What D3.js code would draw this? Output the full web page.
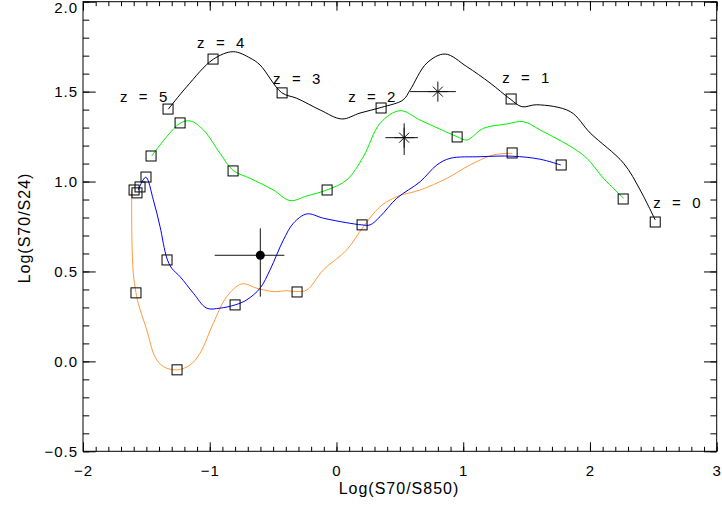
<!DOCTYPE html>
<html>
<head>
<meta charset="utf-8">
<script src="https://cdn.jsdelivr.net/npm/d3@7"></script>
<style>
  body { margin: 0; background: #fff; }
  svg { display: block; }
  text { font-family: "Liberation Sans", Arial, sans-serif; fill: #000; }
  .tick-label { font-size: 15px; letter-spacing: 1px; }
  .z-label { font-size: 15px; letter-spacing: 3.6px; }
  .title { font-size: 16px; letter-spacing: 1px; }
</style>
</head>
<body>
<svg id="chart" width="722" height="509"></svg>
<script>
// model tracks in (log S70/S850, log S70/S24)

var track_black = [
  [-1.327, 1.402], [-1.182, 1.527], [-0.972, 1.680], [-0.814, 1.722],
  [-0.682, 1.687], [-0.603, 1.648], [-0.432, 1.494], [-0.313, 1.463],
  [-0.129, 1.398], [0.042, 1.348], [0.186, 1.381], [0.358, 1.413],
  [0.526, 1.454], [0.581, 1.509], [0.713, 1.659], [0.857, 1.709],
  [1.028, 1.639], [1.212, 1.548], [1.370, 1.459], [1.463, 1.416],
  [1.581, 1.427], [1.844, 1.389], [2.002, 1.270], [2.265, 1.102],
  [2.396, 0.953], [2.515, 0.786]
];
var track_green = [
  [-1.458, 1.142], [-1.339, 1.250], [-1.234, 1.324], [-1.155, 1.337],
  [-1.050, 1.287], [-0.919, 1.157], [-0.814, 1.061], [-0.682, 1.018],
  [-0.498, 0.953], [-0.366, 0.894], [-0.234, 0.920], [-0.076, 0.953],
  [0.081, 1.009], [0.212, 1.138], [0.344, 1.324], [0.502, 1.394],
  [0.660, 1.342], [0.818, 1.291], [0.950, 1.250], [1.028, 1.231],
  [1.160, 1.296], [1.344, 1.320], [1.475, 1.333], [1.607, 1.287],
  [1.870, 1.185], [1.976, 1.129], [2.107, 1.018], [2.265, 0.907]
];
var track_blue = [
  [-1.564, 0.953], [-1.505, 1.024], [-1.445, 0.898], [-1.392, 0.749],
  [-1.339, 0.575], [-1.300, 0.518], [-1.234, 0.471], [-1.129, 0.379],
  [-1.024, 0.296], [-0.919, 0.296], [-0.800, 0.314], [-0.708, 0.342],
  [-0.603, 0.407], [-0.524, 0.509], [-0.419, 0.675], [-0.340, 0.768],
  [-0.234, 0.820], [-0.103, 0.796], [0.081, 0.771], [0.200, 0.759],
  [0.265, 0.759], [0.344, 0.805], [0.476, 0.907], [0.660, 0.999],
  [0.792, 1.092], [0.897, 1.129], [1.133, 1.138], [1.386, 1.141],
  [1.607, 1.124], [1.770, 1.092]
];
var track_orange = [
  [-1.616, 0.953], [-1.614, 0.675], [-1.603, 0.490], [-1.582, 0.382],
  [-1.564, 0.323], [-1.497, 0.175], [-1.432, 0.026], [-1.366, -0.029],
  [-1.256, -0.047], [-1.155, -0.020], [-1.077, 0.045], [-0.972, 0.212],
  [-0.866, 0.360], [-0.747, 0.431], [-0.629, 0.407], [-0.498, 0.388],
  [-0.392, 0.393], [-0.313, 0.388], [-0.234, 0.397], [-0.103, 0.509],
  [0.081, 0.620], [0.212, 0.749], [0.344, 0.860], [0.476, 0.916],
  [0.660, 0.953], [0.871, 1.018], [1.054, 1.092], [1.238, 1.148],
  [1.388, 1.157]
];

// redshift markers (squares) on each track
var boxes_black = [[-1.329, 1.403], [-0.974, 1.681], [-0.429, 1.493], [0.352, 1.409], [1.378, 1.459], [2.515, 0.775]];
var boxes_green = [[-1.463, 1.142], [-1.234, 1.326], [-0.816, 1.059], [-0.074, 0.953], [0.952, 1.248], [2.262, 0.903]];
var boxes_blue = [[-1.550, 0.970], [-1.503, 1.025], [-1.337, 0.564], [-0.800, 0.314], [0.202, 0.759], [1.773, 1.092]];
var boxes_orange = [[-1.597, 0.953], [-1.574, 0.937], [-1.582, 0.381], [-1.258, -0.047], [-0.311, 0.386], [1.386, 1.159]];

// redshift labels along the black track (left edge, vertical centre)
var z_labels = ["z = 5", "z = 4", "z = 3", "z = 2", "z = 1", "z = 0"];
var z_label_x = [-1.708, -1.100, -0.500, 0.092, 1.307, 2.499];
var z_label_y = [1.470, 1.770, 1.570, 1.470, 1.576, 0.885];

// observed points: x, x low, x high, y, y low, y high
var obs_dot = [-0.601, -0.961, -0.411, 0.590, 0.360, 0.740];
var obs_stars = [
  [0.800, 0.581, 0.942, 1.500, 1.500, 1.500],
  [0.534, 0.386, 0.642, 1.244, 1.148, 1.324]
];

var x_ticks = [-2, -1, 0, 1, 2, 3];
var y_ticks = [-0.5, 0.0, 0.5, 1.0, 1.5, 2.0];

var plot_left = 83, plot_top = 1.7, plot_right = 716.7, plot_bottom = 451.3;

var svg = d3.select("#chart");
var x = d3.scaleLinear().domain([-2, 3]).range([plot_left, plot_right]);
var y = d3.scaleLinear().domain([-0.5, 2.0]).range([plot_bottom, plot_top]);

var minor_x = d3.range(-20, 31).map(function(d) { return d / 10; });
var minor_y = d3.range(-5, 21).map(function(d) { return d / 10; });

function fmt_minus(s) { return s.replace("-", "\u2212"); }

// ticks point inward on all four sides (IDL style)
function draw_axis(axis, transform) {
  var g = svg.append("g").attr("transform", transform).call(axis);
  g.select(".domain").remove();
  g.selectAll("line").attr("stroke", "#000");
  return g;
}

draw_axis(d3.axisBottom(x).tickValues(minor_x).tickSize(-4.5).tickSizeOuter(0).tickFormat(""),
          "translate(0," + plot_bottom + ")");
draw_axis(d3.axisTop(x).tickValues(minor_x).tickSize(-4.5).tickSizeOuter(0).tickFormat(""),
          "translate(0," + plot_top + ")");
draw_axis(d3.axisTop(x).tickValues(x_ticks).tickSize(-9).tickSizeOuter(0).tickFormat(""),
          "translate(0," + plot_top + ")");
var gx = draw_axis(d3.axisBottom(x).tickValues(x_ticks).tickSize(-9).tickSizeOuter(0)
          .tickPadding(14).tickFormat(function(d) { return fmt_minus(d3.format("d")(d)); }),
          "translate(0," + plot_bottom + ")");
gx.selectAll("text").attr("class", "tick-label");
gx.attr("font-family", null).attr("font-size", null);

draw_axis(d3.axisLeft(y).tickValues(minor_y).tickSize(-6.3).tickSizeOuter(0).tickFormat(""),
          "translate(" + plot_left + ",0)");
draw_axis(d3.axisRight(y).tickValues(minor_y).tickSize(-6.3).tickSizeOuter(0).tickFormat(""),
          "translate(" + plot_right + ",0)");
draw_axis(d3.axisRight(y).tickValues(y_ticks).tickSize(-12.7).tickSizeOuter(0).tickFormat(""),
          "translate(" + plot_right + ",0)");
var gy = draw_axis(d3.axisLeft(y).tickValues(y_ticks).tickSize(-12.7).tickSizeOuter(0)
          .tickPadding(5).tickFormat(function(d) { return fmt_minus(d3.format(".1f")(d)); }),
          "translate(" + plot_left + ",0)");
gy.selectAll("text").attr("class", "tick-label");
gy.attr("font-family", null).attr("font-size", null);
// the top label sits a little lower so it stays inside the picture
gy.selectAll("text").filter(function(d) { return d === 2; }).attr("dy", "0.32em").attr("y", 6);

svg.append("rect")
  .attr("x", plot_left).attr("y", plot_top)
  .attr("width", plot_right - plot_left).attr("height", plot_bottom - plot_top)
  .attr("fill", "none").attr("stroke", "#000").attr("stroke-width", 1);

// tracks
var line = d3.line()
  .x(function(d) { return x(d[0]); })
  .y(function(d) { return y(d[1]); })
  .curve(d3.curveCatmullRom.alpha(0.5));

var tracks = [
  { pts: track_orange, colour: "#ff9a3c" },
  { pts: track_blue, colour: "#0000ff" },
  { pts: track_green, colour: "#00ee00" },
  { pts: track_black, colour: "#000000" }
];
tracks.forEach(function(t) {
  svg.append("path").attr("d", line(t.pts))
    .attr("fill", "none").attr("stroke", t.colour).attr("stroke-width", 1);
});

var boxes = boxes_black.concat(boxes_green, boxes_blue, boxes_orange);
svg.append("g").selectAll("rect").data(boxes).enter().append("rect")
  .attr("x", function(d) { return x(d[0]) - 5; })
  .attr("y", function(d) { return y(d[1]) - 5; })
  .attr("width", 10).attr("height", 10)
  .attr("fill", "none").attr("stroke", "#000").attr("stroke-width", 1);

// error bars
function err_bars(d) {
  var g = svg.append("g").attr("stroke", "#111").attr("stroke-width", 1);
  g.append("line").attr("x1", x(d[1])).attr("x2", x(d[2])).attr("y1", y(d[3])).attr("y2", y(d[3]));
  g.append("line").attr("x1", x(d[0])).attr("x2", x(d[0])).attr("y1", y(d[4])).attr("y2", y(d[5]));
  return g;
}

err_bars(obs_dot);
svg.append("circle").attr("cx", x(obs_dot[0])).attr("cy", y(obs_dot[3])).attr("r", 4.5).attr("fill", "#000");

obs_stars.forEach(function(d) {
  var g = err_bars(d);
  var cx = x(d[0]), cy = y(d[3]);
  g.append("line").attr("x1", cx - 10).attr("x2", cx + 10).attr("y1", cy).attr("y2", cy);
  g.append("line").attr("x1", cx).attr("x2", cx).attr("y1", cy - 10).attr("y2", cy + 10);
  g.append("line").attr("x1", cx - 5).attr("x2", cx + 5).attr("y1", cy - 5).attr("y2", cy + 5);
  g.append("line").attr("x1", cx - 5).attr("x2", cx + 5).attr("y1", cy + 5).attr("y2", cy - 5);
});

// labels
svg.append("g").selectAll("text").data(z_labels).enter().append("text")
  .attr("class", "z-label")
  .attr("x", function(d, i) { return x(z_label_x[i]); })
  .attr("y", function(d, i) { return y(z_label_y[i]); })
  .attr("dy", "0.36em")
  .style("white-space", "pre")
  .text(function(d) { return d; });

svg.append("text").attr("class", "title")
  .attr("x", 399).attr("y", 488).attr("dy", "0.36em")
  .attr("text-anchor", "middle")
  .text("Log(S70/S850)");

svg.append("text").attr("class", "title")
  .attr("transform", "translate(24,228) rotate(-90)")
  .attr("dy", "0.36em")
  .attr("text-anchor", "middle")
  .text("Log(S70/S24)");
</script>
</body>
</html>
